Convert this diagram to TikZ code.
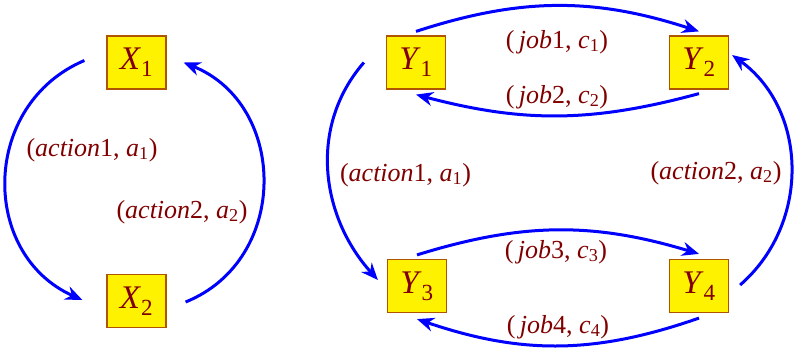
\documentclass[tikz,border=0pt]{standalone}
\usepackage{fontspec}
\setmainfont{Liberation Serif}
\usetikzlibrary{arrows.meta}
\definecolor{arcblue}{RGB}{0,0,255}
\definecolor{labred}{RGB}{128,0,0}
\definecolor{boxedge}{RGB}{175,85,0}
\tikzset{
  sbox/.style={draw=boxedge, fill=yellow, line width=1.2pt, minimum width=59pt,
    minimum height=53pt, inner sep=0pt, text=labred, font=\fontsize{33}{38}\selectfont},
  trans/.style={draw=arcblue, line width=3pt, -{Stealth[length=17pt,width=14pt]}},
  lbl/.style={text=labred, font=\fontsize{26}{30}\selectfont}
}
\begin{document}
\begin{tikzpicture}[x=1pt,y=1pt]
\useasboundingbox (0,0) rectangle (796,349);
% left pair
\node[sbox] (X1) at (136.5,286.5) {\textit{X}\textsubscript{1}};
\node[sbox] (X2) at (136.5,48) {\textit{X}\textsubscript{2}};
% right square
\node[sbox] (Y1) at (416,286.5) {\textit{Y}\textsubscript{1}};
\node[sbox] (Y2) at (699,286.5) {\textit{Y}\textsubscript{2}};
\node[sbox] (Y3) at (417,63) {\textit{Y}\textsubscript{3}};
\node[sbox] (Y4) at (699,63) {\textit{Y}\textsubscript{4}};
\draw[trans] ([xshift=-22pt,yshift=2pt]X1.west) to[out=203,in=156,looseness=1.2] ([xshift=-24pt,yshift=1pt]X2.west);
\draw[trans] ([xshift=19pt,yshift=-1pt]X2.east) to[out=22,in=338,looseness=1.2] ([xshift=17pt]X1.east);
\draw[trans] ([xshift=-22pt]Y1.west) to[out=229,in=132] ([xshift=-9pt,yshift=6pt]Y3.west);
\draw[trans] ([xshift=11pt,yshift=1pt]Y4.east) to[out=41,in=324,looseness=1.04] ([xshift=3pt,yshift=7.5pt]Y2.east);
\draw[trans] ([yshift=4pt]Y1.north) to[bend left=18] ([yshift=4pt]Y2.north);
\draw[trans] ([yshift=-4pt]Y2.south) to[bend left=15] ([yshift=-5pt]Y1.south);
\draw[trans] ([yshift=4pt]Y3.north) to[bend left=17] ([yshift=5pt]Y4.north);
\draw[trans] ([yshift=-5pt]Y4.south) to[bend left=19] ([yshift=-6pt]Y3.south);
% labels
\node[lbl] (la1) at (92,199) {(\textit{action}1, \textit{a}\textsubscript{1})};
\node[lbl] (la2) at (182,137) {(\textit{action}2, \textit{a}\textsubscript{2})};
\node[lbl] (lb1) at (405.5,174) {(\textit{action}1, \textit{a}\textsubscript{1})};
\node[lbl] (lb2) at (716,176) {(\textit{action}2, \textit{a}\textsubscript{2})};
\node[lbl] (lj1) at (557,307) {(\,\textit{job}1, \textit{c}\textsubscript{1})};
\node[lbl] (lj2) at (557,252) {(\,\textit{job}2, \textit{c}\textsubscript{2})};
\node[lbl] (lj3) at (556,97) {(\,\textit{job}3, \textit{c}\textsubscript{3})};
\node[lbl] (lj4) at (558,22) {(\,\textit{job}4, \textit{c}\textsubscript{4})};
\end{tikzpicture}
\end{document}
